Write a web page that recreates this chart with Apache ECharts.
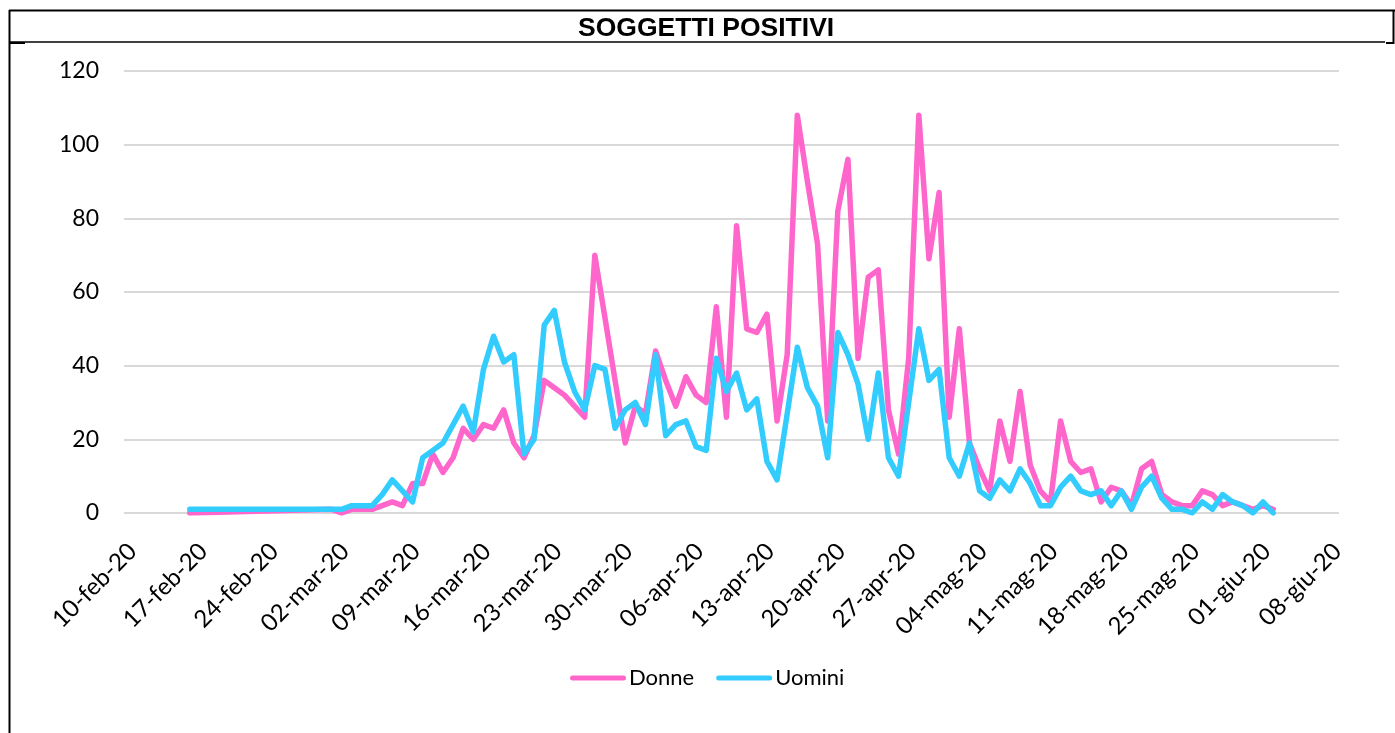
<!DOCTYPE html>
<html>
<head>
<meta charset="utf-8">
<title>Soggetti positivi</title>
<script src="https://cdn.jsdelivr.net/npm/echarts@6/dist/echarts.min.js"></script>
<style>
  html, body { margin: 0; padding: 0; background: #ffffff; }
  #chart { width: 1395px; height: 733px; }
</style>
</head>
<body>
<div id="chart"></div>
<script>
// Italian short month names for the date labels (dd-mmm-yy)
const MONTHS = ['gen', 'feb', 'mar', 'apr', 'mag', 'giu', 'lug', 'ago', 'set', 'ott', 'nov', 'dic'];
const DAY_MS = 86400000;
function dayLabel(t) {
  const d = new Date(t);
  return String(d.getUTCDate()).padStart(2, '0') + '-' + MONTHS[d.getUTCMonth()] + '-20';
}

// Date axis: one category per day, 10 Feb 2020 to 8 Jun 2020, labelled weekly
const axisStart = Date.UTC(2020, 1, 10);
const axisDays = 120;
const categories = Array.from({ length: axisDays }, (_, i) => dayLabel(axisStart + i * DAY_MS));

// Reporting dates: a first case on 16 Feb, then daily from 1 Mar to 2 Jun
const firstDaily = categories.indexOf('01-mar-20');
const lastDaily = categories.indexOf('02-giu-20');
const dates = ['16-feb-20'].concat(categories.slice(firstDaily, lastDaily + 1));

// Positive subjects per day
const donne = [
  0,
  1, 0, 1, 1, 1, 2, 3, 2, 8, 8,
  16, 11, 15, 23, 20, 24, 23, 28, 19, 15,
  21, 36, 34, 32, 29, 26, 70, 53, 36, 19, 29,
  27, 44, 36, 29, 37, 32, 30, 56, 26, 78,
  50, 49, 54, 25, 43, 108, 90, 73, 25, 82,
  96, 42, 64, 66, 28, 16, 42, 108, 69, 87,
  26, 50, 19, 12, 6, 25, 14, 33, 13, 6,
  3, 25, 14, 11, 12, 3, 7, 6, 2, 12,
  14, 5, 3, 2, 2, 6, 5, 2, 3, 2, 1,
  2, 1
];
const uomini = [
  1,
  1, 1, 2, 2, 2, 5, 9, 6, 3, 15,
  17, 19, 24, 29, 22, 39, 48, 41, 43, 16,
  20, 51, 55, 41, 33, 28, 40, 39, 23, 28, 30,
  24, 43, 21, 24, 25, 18, 17, 42, 33, 38,
  28, 31, 14, 9, 27, 45, 34, 29, 15, 49,
  43, 35, 20, 38, 15, 10, 30, 50, 36, 39,
  15, 10, 19, 6, 4, 9, 6, 12, 8, 2,
  2, 7, 10, 6, 5, 6, 2, 6, 1, 7,
  10, 4, 1, 1, 0, 3, 1, 5, 3, 2, 0,
  3, 0
];

const yMin = 0, yMax = 120, yStep = 20;

const PINK = '#FF66CC';
const BLUE = '#33CCFF';
const FONT = 'Lato';

const pairs = values => dates.map((d, i) => [d, values[i]]);

// Rounded bar used as the legend key
const legendKey = 'path://M2.5,0 H53.5 A2.5,2.5 0 0 1 53.5,5 H2.5 A2.5,2.5 0 0 1 2.5,0 Z';

const chart = echarts.init(document.getElementById('chart'), null, { renderer: 'canvas' });

chart.setOption({
  backgroundColor: '#ffffff',
  animation: false,
  title: {
    text: 'SOGGETTI POSITIVI',
    left: 578,
    top: 15,
    padding: 0,
    textStyle: { fontFamily: 'Liberation Sans', fontSize: 26.5, fontWeight: 'bold', color: '#000000' }
  },
  legend: {
    left: 565,
    top: 662,
    itemWidth: 56,
    itemHeight: 5,
    itemGap: 22,
    textStyle: { fontFamily: FONT, fontSize: 22, color: '#000000', padding: [0, 0, 0, -2] },
    data: [
      { name: 'Donne', icon: legendKey, itemStyle: { color: PINK } },
      { name: 'Uomini', icon: legendKey, itemStyle: { color: BLUE } }
    ]
  },
  grid: { left: 124, right: 56, top: 71, bottom: 220 },
  xAxis: {
    type: 'category',
    data: categories,
    boundaryGap: true,
    axisLine: { show: false },
    axisTick: { show: false },
    axisLabel: {
      interval: 6,
      rotate: 45,
      align: 'right',
      verticalAlign: 'top',
      margin: 21,
      padding: [0, 7, 0, 0],
      fontFamily: FONT,
      fontSize: 24,
      color: '#000000'
    },
    splitLine: { show: false }
  },
  yAxis: {
    type: 'value',
    min: yMin,
    max: yMax,
    interval: yStep,
    axisLine: { show: false },
    axisTick: { show: false },
    axisLabel: { margin: 25, fontFamily: FONT, fontSize: 23, color: '#000000' },
    splitLine: { lineStyle: { color: '#d9d9d9', width: 2 } }
  },
  series: [
    {
      name: 'Donne',
      type: 'line',
      data: pairs(donne),
      symbol: 'none',
      showSymbol: false,
      color: PINK,
      lineStyle: { color: PINK, width: 5.5, cap: 'round', join: 'round' }
    },
    {
      name: 'Uomini',
      type: 'line',
      data: pairs(uomini),
      symbol: 'none',
      showSymbol: false,
      color: BLUE,
      lineStyle: { color: BLUE, width: 5.5, cap: 'round', join: 'round' }
    }
  ],
  graphic: [
    // outer frame and title cell
    { type: 'line', silent: true, shape: { x1: 9, y1: 10.5, x2: 1395, y2: 10.5 }, style: { stroke: '#000', lineWidth: 2 } },
    { type: 'line', silent: true, shape: { x1: 9.5, y1: 10, x2: 9.5, y2: 733 }, style: { stroke: '#000', lineWidth: 2 } },
    { type: 'line', silent: true, shape: { x1: 1393.5, y1: 10, x2: 1393.5, y2: 44 }, style: { stroke: '#000', lineWidth: 2 } },
    { type: 'line', silent: true, shape: { x1: 9, y1: 42, x2: 1385, y2: 42 }, style: { stroke: '#000', lineWidth: 1.3 } },
    { type: 'line', silent: true, shape: { x1: 9, y1: 43, x2: 25, y2: 43 }, style: { stroke: '#000', lineWidth: 2 } },
    { type: 'line', silent: true, shape: { x1: 1386, y1: 43, x2: 1394, y2: 43 }, style: { stroke: '#000', lineWidth: 2 } }
  ]
});
</script>
</body>
</html>
